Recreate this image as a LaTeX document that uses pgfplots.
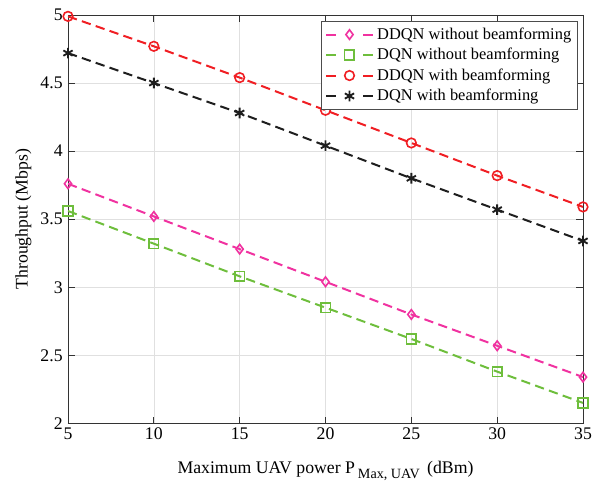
\documentclass[border=0pt]{standalone}
\usepackage{fontspec}
\setmainfont{Liberation Serif}
\usepackage{pgfplots}
\pgfplotsset{compat=1.18}
\definecolor{cpink}{RGB}{240,50,160}
\definecolor{cgreen}{RGB}{110,190,60}
\definecolor{cred}{RGB}{240,30,35}
\definecolor{cblack}{RGB}{30,30,30}
\newcommand{\fs}{\fontsize{13.3}{15.5}\selectfont}
\newcommand{\fl}{\fontsize{12.3}{14.5}\selectfont}
\begin{document}
\begin{tikzpicture}
\begin{axis}[
  name=ax,
  scale only axis,
  width=386.25pt, height=306.25pt,
  xmin=5, xmax=35, ymin=2, ymax=5,
  xtick={5,10,...,35}, ytick={2,2.5,...,5},
  grid=major,
  major grid style={draw=black!12, line width=0.4pt},
  axis line style={draw=black!80, line width=0.6pt},
  tick style={draw=black!80, line width=0.6pt},
  tick align=inside,
  major tick length=5pt,
  /pgf/number format/assume math mode=true,
  tick label style={font=\fs},
  label style={font=\fs},
  yticklabel style={/pgf/number format/fixed, /pgf/number format/precision=1, xshift=-0.5pt},
  xlabel={Maximum UAV power P\,\raisebox{-4pt}{\fontsize{10.6}{12}\selectfont Max, UAV}\, (dBm)},
  ylabel={Throughput (Mbps)},
  every axis x label/.style={at={(axis description cs:0.5,-0.1224)}, anchor=base, font=\fs},
  every axis y label/.style={at={(axis description cs:-0.0865,0.5)}, rotate=90, anchor=center, font=\fs},
  legend style={at={(rel axis cs:1,1)}, anchor=north east, xshift=-3.75pt, yshift=-4.5pt,
    draw=black!70, line width=0.6pt,
    font=\fl, inner sep=2.8pt, row sep=1.2pt, cells={anchor=west}},
  legend cell align=left,
  every axis plot/.append style={line width=1.5pt, dash pattern=on 7pt off 4pt},
  every axis plot post/.append style={legend image code/.code={%
    \draw[solid] (0pt,0pt) -- (7.5pt,0pt) (28pt,0pt) -- (35.5pt,0pt);
    \draw[draw=none] plot[only marks] coordinates {(17.5pt,0pt)};}},
]
\addplot[cpink, mark=diamond, mark size=3.6pt, mark options={solid, line width=1.2pt}]
  coordinates {(5,3.76) (10,3.52) (15,3.28) (20,3.04) (25,2.80) (30,2.57) (35,2.34)};
\addlegendentry{DDQN without beamforming}
\addplot[cgreen, mark=square, mark size=3.6pt, mark options={solid, line width=1.2pt}]
  coordinates {(5,3.56) (10,3.32) (15,3.08) (20,2.85) (25,2.62) (30,2.38) (35,2.15)};
\addlegendentry{DQN without beamforming}
\addplot[cred, mark=o, mark size=3.6pt, mark options={solid, line width=1.2pt}]
  coordinates {(5,4.99) (10,4.77) (15,4.54) (20,4.30) (25,4.06) (30,3.82) (35,3.59)};
\addlegendentry{DDQN with beamforming}
\addplot[cblack, mark=asterisk, mark size=4pt, mark options={solid, line width=1.4pt}]
  coordinates {(5,4.72) (10,4.50) (15,4.28) (20,4.04) (25,3.80) (30,3.57) (35,3.34)};
\addlegendentry{DQN with beamforming}
\end{axis}
\pgfresetboundingbox
\path[use as bounding box] ([shift={(-51pt,-46.5pt)}]ax.south west) rectangle ([shift={(6.75pt,11.25pt)}]ax.north east);
\end{tikzpicture}
\end{document}
